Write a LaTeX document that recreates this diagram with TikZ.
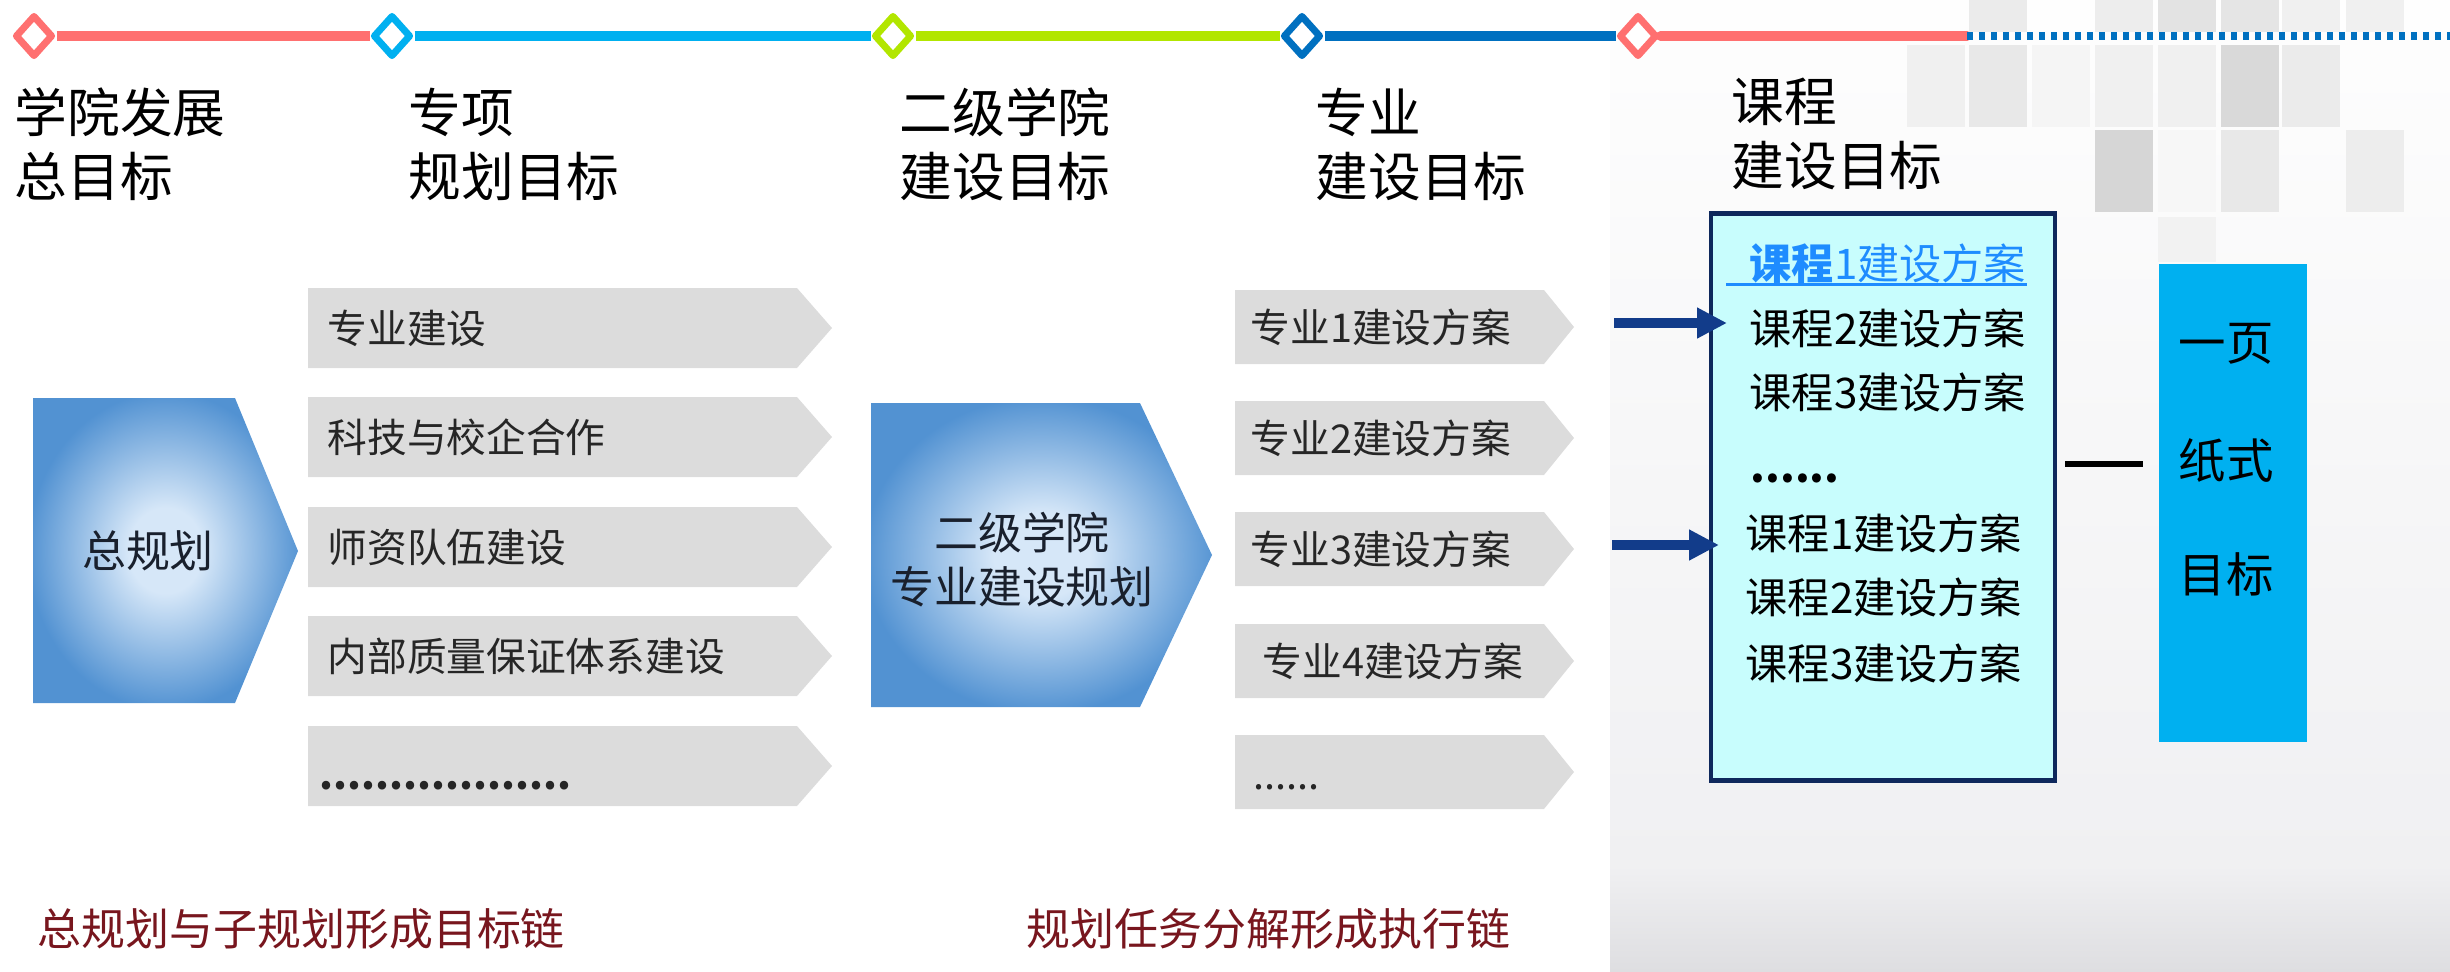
\documentclass[tikz,border=0pt]{standalone}
\usepackage{fontspec}
\setmainfont{Noto Sans CJK SC}
\usetikzlibrary{arrows.meta,shapes.geometric}

\definecolor{lnred}{RGB}{255,112,112}
\definecolor{lnsky}{RGB}{0,176,240}
\definecolor{lngreen}{RGB}{178,230,0}
\definecolor{lnblue}{RGB}{0,112,192}
\definecolor{planblue}{RGB}{82,146,210}
\definecolor{planlight}{RGB}{214,231,248}
\definecolor{taskgray}{RGB}{220,220,220}
\definecolor{boxcyan}{RGB}{200,253,253}
\definecolor{boxnavy}{RGB}{14,40,92}
\definecolor{arrnavy}{RGB}{18,60,138}
\definecolor{linkblue}{RGB}{30,140,255}
\definecolor{capred}{RGB}{120,22,30}
\definecolor{textdark}{RGB}{25,32,45}
\definecolor{panelA}{RGB}{254,254,254}
\definecolor{panelB}{RGB}{240,240,242}
\definecolor{panelC}{RGB}{222,222,225}

\pgfdeclareradialshading{planshade}{\pgfpoint{0bp}{0bp}}{color(0bp)=(planlight); color(7bp)=(planlight); color(26bp)=(planblue); color(50bp)=(planblue)}

\newcommand{\dotrow}[1]{\foreach \k in {1,...,#1}{\makebox[1.4mm][c]{.}}}

\tikzset{
  gem/.style={diamond, draw=#1, line width=0.7mm, line join=round, fill=white,
    inner sep=0pt, minimum width=3.8mm, minimum height=4.2mm},
  seg/.style={line width=0.95mm},
  head/.style={anchor=west, inner sep=0pt, align=left, font=\fontsize{15pt}{18.2pt}\selectfont},
  task/.style={anchor=west, inner sep=0pt, text=black!85, font=\fontsize{11.3pt}{13.5pt}\selectfont},
  plantext/.style={inner sep=0pt, align=center, text=textdark, font=\fontsize{12.5pt}{15.4pt}\selectfont},
  course/.style={anchor=west, inner sep=0pt, font=\fontsize{12pt}{14pt}\selectfont},
  goal/.style={inner sep=0pt, font=\fontsize{13.5pt}{16pt}\selectfont},
  caption/.style={anchor=west, inner sep=0pt, text=capred, font=\fontsize{12.5pt}{15pt}\selectfont},
  bigarrow/.style={draw=arrnavy, line width=0.95mm, -{Triangle[length=3mm,width=2.9mm]}},
}

\begin{document}
\begin{tikzpicture}[x=0.1mm, y=-0.1mm]
  \useasboundingbox (0,0) rectangle (2450,971);

  % grey panel on the right
  \shade[top color=panelA, bottom color=panelB] (1610,0) rectangle (2450,866);
  \shade[top color=panelB, bottom color=panelC] (1610,866) rectangle (2450,971);
  \foreach \x/\y/\h/\g in {1969/0/32/8, 2095/0/32/7, 2158/0/32/11, 2221/0/32/10, 2282/0/32/6, 2346/0/32/6,
      1907/45/82/6, 1969/45/82/9, 2032/45/82/4, 2095/45/82/6, 2158/45/82/6, 2221/45/82/15, 2282/45/82/8,
      2095/130/82/16, 2158/130/82/3, 2221/130/82/9, 2346/130/82/7, 2158/217/45/5}
    \fill[black!\g] (\x,\y) rectangle ++(58,\h);

  % timeline
  \node[gem=lnred]   (g1) at (34,36) {};
  \node[gem=lnsky]   (g2) at (392,36) {};
  \node[gem=lngreen] (g3) at (893,36) {};
  \node[gem=lnblue]  (g4) at (1302,36) {};
  \node[gem=lnred]   (g5) at (1638,36) {};
  \coordinate (redend) at (1967,36);
  \coordinate (lineend) at (2450,36);
  \draw[seg, lnred]   (g1) -- (g2);
  \draw[seg, lnsky]   (g2) -- (g3);
  \draw[seg, lngreen] (g3) -- (g4);
  \draw[seg, lnblue]  (g4) -- (g5);
  \draw[seg, lnred, line cap=round] (g5) -- (redend);
  \draw[lnblue, line width=0.75mm, dash pattern=on 0.6mm off 0.6mm] (redend) -- (lineend);

  \node[head] (h1) at (14,144) {学院发展\\总目标};
  \node[head] (h2) at (408,144) {专项\\规划目标};
  \node[head] (h3) at (899,144) {二级学院\\建设目标};
  \node[head] (h4) at (1315,144) {专业\\建设目标};
  \node[head] (h5) at (1731,134) {课程\\建设目标};

  % general plan
  \shade[shading=planshade] (33,398) -- (235,398) -- (298,551) -- (235,703) -- (33,703) -- cycle;
  \node[plantext] (zong) at (148,551) {总规划};

  \foreach \y in {328,437,547,656,766}
    \fill[taskgray] (308,\y-40) -- (797,\y-40) -- (832,\y) -- (797,\y+40) -- (308,\y+40) -- cycle;
  \node[task] (t1) at (327,328) {专业建设};
  \node[task] (t2) at (327,437) {科技与校企合作};
  \node[task] (t3) at (327,547) {师资队伍建设};
  \node[task] (t4) at (327,656) {内部质量保证体系建设};
  \node[task, anchor=base west, font=\fontsize{11.3pt}{13.5pt}\selectfont\bfseries] (t5) at (319,789) {\dotrow{18}};

  % college plan
  \shade[shading=planshade] (871,403) -- (1140,403) -- (1212,555) -- (1140,707) -- (871,707) -- cycle;
  \node[plantext] (erji) at (1022,560) {二级学院\\专业建设规划};

  \foreach \y in {327,438,549,661,772}
    \fill[taskgray] (1235,\y-37) -- (1544,\y-37) -- (1574,\y) -- (1544,\y+37) -- (1235,\y+37) -- cycle;
  \node[task] (z1) at (1250,327) {专业1建设方案};
  \node[task] (z2) at (1250,438) {专业2建设方案};
  \node[task] (z3) at (1250,549) {专业3建设方案};
  \node[task] (z4) at (1262,661) {专业4建设方案};
  \node[task, anchor=base west] (z5) at (1253,789) {......};

  % courses
  \node[draw=boxnavy, line width=1.4pt, fill=boxcyan, inner sep=0pt,
    minimum width=34.4mm, minimum height=56.7mm] (kcbox) at (1883,497) {};
  \node[course, text=linkblue] (kc1) at (1749,264) {\bfseries 课程\mdseries 1建设方案};
  \draw[linkblue, line width=0.3mm] ([xshift=-2.3mm, yshift=-0.5mm]kc1.base west) -- ([yshift=-0.5mm]kc1.base east);
  \node[course] (kc2) at (1749,328) {课程2建设方案};
  \node[course] (kc3) at (1749,392) {课程3建设方案};
  \node[course, anchor=base west, font=\fontsize{12pt}{14pt}\selectfont\bfseries] (kc4) at (1750,482) {......};
  \node[course] (kc5) at (1745,533) {课程1建设方案};
  \node[course] (kc6) at (1745,597) {课程2建设方案};
  \node[course] (kc7) at (1745,663) {课程3建设方案};

  \coordinate (in1) at (1614,323);
  \coordinate (in2) at (1612,545);
  \draw[bigarrow, shorten >=2.2mm] (in1) -- (in1 -| kc2.west);
  \draw[bigarrow, shorten >=2.6mm] (in2) -- (in2 -| kc5.west);

  % one page goal
  \node[fill=lnsky, inner sep=0pt, minimum width=14.8mm, minimum height=47.8mm] (ymu) at (2233,503) {};
  \node[goal] (ym1) at (2226,344) {一页};
  \node[goal] (ym2) at (2226,460) {纸式};
  \node[goal] (ym3) at (2226,574) {目标};
  \coordinate (dashL) at (2065,464);
  \draw[line width=0.65mm, shorten >=1.5mm] (dashL) -- (dashL -| ymu.west);

  \node[caption] (cap1) at (37,929) {总规划与子规划形成目标链};
  \node[caption] (cap2) at (1026,929) {规划任务分解形成执行链};
\end{tikzpicture}
\end{document}
